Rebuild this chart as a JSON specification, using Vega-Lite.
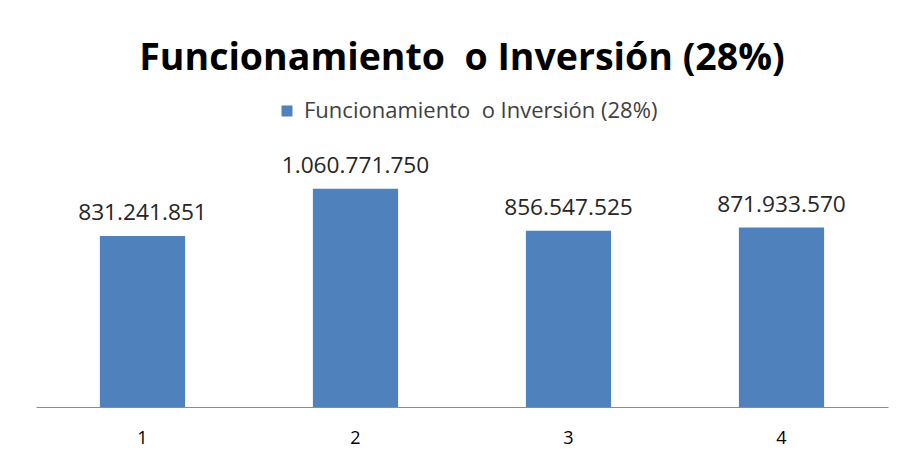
{
  "$schema": "https://vega.github.io/schema/vega-lite/v6.json",
  "width": 852,
  "height": 247,
  "autosize": {"type": "none"},
  "padding": {"left": 36, "top": 160, "right": 14, "bottom": 67},
  "background": "white",
  "title": {
    "text": "Funcionamiento\u00a0 o Inversión (28%)",
    "font": "Open Sans",
    "fontSize": 37.5,
    "fontWeight": "bold",
    "color": "#000000",
    "anchor": "middle",
    "baseline": "alphabetic",
    "offset": 0,
    "dy": 7
  },
  "data": {
    "values": [
      {"periodo": "1", "serie": "Funcionamiento\u00a0 o Inversión (28%)", "valor": 831241851},
      {"periodo": "2", "serie": "Funcionamiento\u00a0 o Inversión (28%)", "valor": 1060771750},
      {"periodo": "3", "serie": "Funcionamiento\u00a0 o Inversión (28%)", "valor": 856547525},
      {"periodo": "4", "serie": "Funcionamiento\u00a0 o Inversión (28%)", "valor": 871933570}
    ]
  },
  "encoding": {
    "x": {
      "field": "periodo",
      "type": "nominal",
      "scale": {"paddingInner": 0.6, "paddingOuter": 0.3},
      "axis": {
        "title": null,
        "labelAngle": 0,
        "ticks": false,
        "labelFontSize": 18,
        "labelFont": "Open Sans",
        "labelColor": "#000000",
        "labelPadding": 22,
        "domainColor": "#8c8c8c",
        "domainWidth": 1
      }
    },
    "y": {
      "field": "valor",
      "type": "quantitative",
      "scale": {"domain": [0, 1200000000]},
      "axis": null
    }
  },
  "layer": [
    {
      "mark": {"type": "bar", "color": "#4F81BD"},
      "encoding": {
        "color": {
          "field": "serie",
          "type": "nominal",
          "scale": {"range": ["#4F81BD"]},
          "legend": {
            "title": null,
            "orient": "none",
            "legendX": 240,
            "legendY": -60,
            "direction": "horizontal",
            "symbolType": "square",
            "symbolSize": 121,
            "symbolStrokeWidth": 0,
            "labelFont": "Open Sans",
            "labelFontSize": 22,
            "labelColor": "#404040",
            "labelOffset": 6,
            "labelLimit": 700
          }
        }
      }
    },
    {
      "mark": {"type": "text", "baseline": "alphabetic", "dy": -16, "font": "Open Sans", "fontSize": 22.7, "color": "#262626"},
      "encoding": {
        "text": {"field": "valor", "type": "quantitative", "format": ",d"}
      }
    }
  ],
  "config": {
    "view": {"stroke": null},
    "locale": {
      "number": {"decimal": ",", "thousands": ".", "grouping": [3], "currency": ["$", ""]}
    }
  }
}
